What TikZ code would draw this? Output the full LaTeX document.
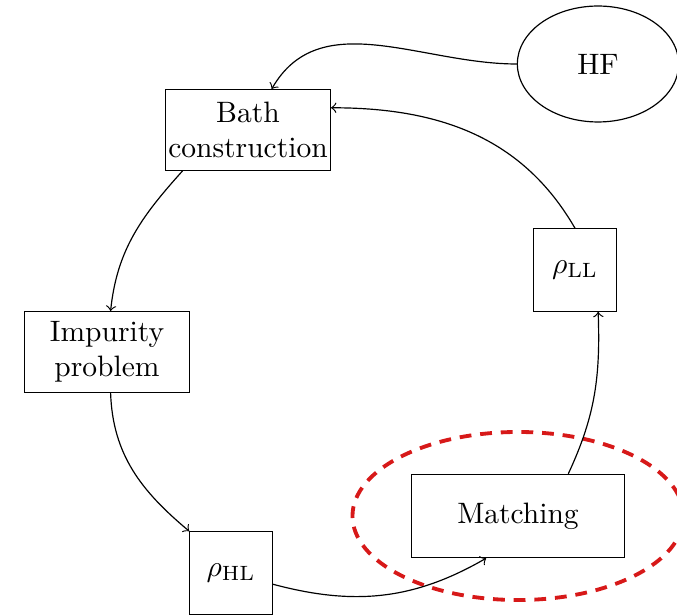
\documentclass[tikz,border=0pt]{standalone}
\usetikzlibrary{shapes.geometric}
\definecolor{matchred}{RGB}{215,25,25}
\begin{document}
\begin{tikzpicture}[x=0.0119cm, y=-0.0119cm,
	box/.style={draw, align=center, inner sep=0pt, line width=0.4pt},
	wide/.style={box, minimum width=1.96cm, minimum height=0.96cm},
	small/.style={box, minimum width=0.98cm, minimum height=0.98cm}]
				\useasboundingbox (0,0) rectangle (677,616);
				\node[wide] (bath) at (248,130) {Bath\\construction};
				\node[wide] (impurity) at (107,352) {Impurity\\problem};
				\node[small] (rhoHL) at (231,573) {$\rho_{\mathrm{HL}}$};
				\node[box, minimum width=2.54cm, minimum height=0.99cm] (matching) at (518,516) {Matching};
				\node[small] (rhoLL) at (575,270) {$\rho_{\mathrm{LL}}$};
				\node[draw, ellipse, minimum width=1.92cm, minimum height=1.38cm] (hf) at (598,64) {HF};
				\draw [matchred, line width=1.3pt, dash pattern=on 4pt off 3pt] (matching) ellipse [x radius=1.97cm, y radius=1cm];
				\draw [->] (hf.west) to[out=180, in=60] (bath.60);
				\draw [->] (rhoLL.north) to[out=120, in=0] (bath.15);
				\draw [->] (bath.-148) to[out=-132, in=84] (impurity.85);
				\draw [->] (impurity.-85) to[out=-88, in=140] (rhoHL.north west);
				\draw [->] (rhoHL.-15) to[out=-15, in=-150] (matching.-127);
				\draw [->] (matching.40) to[out=65, in=-88] (rhoLL.-61);
				\end{tikzpicture}
\end{document}
